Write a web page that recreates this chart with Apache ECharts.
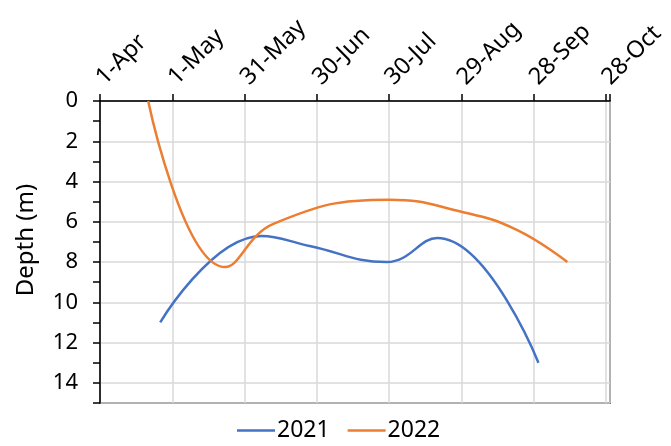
<!DOCTYPE html>
<html>
<head>
<meta charset="utf-8">
<script src="https://cdn.jsdelivr.net/npm/echarts@6/dist/echarts.min.js"></script>
<style>
  html, body { margin: 0; padding: 0; background: #fff; }
  #chart { width: 671px; height: 446px; }
</style>
</head>
<body>
<div id="chart"></div>
<script>
// Seasonal depth readings, two years overlaid on a common April–October axis
const dates2021 = ['2021-04-26', '2021-06-07', '2021-06-27', '2021-07-29', '2021-08-19', '2021-09-30'];
const depth2021 = [11.0, 6.7, 7.2, 8.0, 6.8, 13.0];

const dates2022 = ['2022-04-21', '2022-05-23', '2022-06-12', '2022-07-30', '2022-08-29', '2022-09-21', '2022-10-12'];
const depth2022 = [0.0, 8.25, 6.1, 4.9, 5.5, 6.4, 8.0];

const MONTHS = ['Jan', 'Feb', 'Mar', 'Apr', 'May', 'Jun', 'Jul', 'Aug', 'Sep', 'Oct', 'Nov', 'Dec'];
const DAY = 86400000;

// Days elapsed since 1 April of the reading's own year
function seasonDay(iso) {
  const [y, m, d] = iso.split('-').map(Number);
  return (Date.UTC(y, m - 1, d) - Date.UTC(y, 3, 1)) / DAY;
}

function dayLabel(v) {
  if (Math.abs(v % 30) > 1e-6) return '';
  const dt = new Date(Date.UTC(2022, 3, 1) + v * DAY);
  return dt.getUTCDate() + '-' + MONTHS[dt.getUTCMonth()];
}

const pairs = (dates, vals) => dates.map((d, i) => [seasonDay(d), vals[i]]);

const FONT = 'Noto Sans';
const chart = echarts.init(document.getElementById('chart'));

chart.setOption({
  animation: false,
  textStyle: { fontFamily: FONT },
  grid: {
    left: 100, right: 61, top: 101, bottom: 43,
    show: true, borderColor: '#000', borderWidth: 1.5
  },
  legend: {
    bottom: -1,
    left: 232,
    itemWidth: 38,
    itemHeight: 14,
    itemGap: 18,
    icon: 'path://M0,5.75 L38,5.75 L38,8.25 L0,8.25 Z',
    textStyle: { fontFamily: FONT, fontSize: 23, color: '#000', padding: [0, 0, 0, -3] },
    data: ['2021', '2022']
  },
  xAxis: {
    type: 'value',
    position: 'top',
    min: 0,
    max: 211.7,
    interval: 30,
    axisLine: { show: true, onZero: false, lineStyle: { color: '#000', width: 1.5 } },
    axisTick: { show: true, length: 7, lineStyle: { color: '#000', width: 1.5 } },
    axisLabel: {
      rotate: -45,
      margin: 20,
      fontSize: 23.5,
      color: '#000',
      formatter: dayLabel
    },
    splitLine: { show: true, lineStyle: { color: '#d9d9d9', width: 1.5 } }
  },
  yAxis: {
    type: 'value',
    inverse: true,
    min: 0,
    max: 15,
    interval: 2,
    name: 'Depth (m)',
    nameLocation: 'middle',
    nameGap: 62,
    nameTextStyle: { fontFamily: FONT, fontSize: 24, color: '#000', padding: [0, 0, 0, 24] },
    axisLine: { show: true, onZero: false, lineStyle: { color: '#000', width: 1.5 } },
    axisTick: { show: true, length: 7, lineStyle: { color: '#000', width: 1.5 } },
    minorTick: { show: true, splitNumber: 2, length: 7, lineStyle: { color: '#000', width: 1.5 } },
    axisLabel: {
      margin: 22,
      fontSize: 22,
      color: '#000',
      formatter: v => (v % 2 === 0 ? String(v) : '')
    },
    splitLine: { show: true, lineStyle: { color: '#d9d9d9', width: 1.5 } }
  },
  series: [
    {
      name: '2021',
      type: 'line',
      data: pairs(dates2021, depth2021),
      smooth: 0.45,
      symbol: 'none',
      lineStyle: { color: '#4472C4', width: 2.5 },
      itemStyle: { color: '#4472C4' }
    },
    {
      name: '2022',
      type: 'line',
      data: pairs(dates2022, depth2022),
      smooth: 0.45,
      symbol: 'none',
      lineStyle: { color: '#ED7D31', width: 2.5 },
      itemStyle: { color: '#ED7D31' }
    }
  ]
});
</script>
</body>
</html>
